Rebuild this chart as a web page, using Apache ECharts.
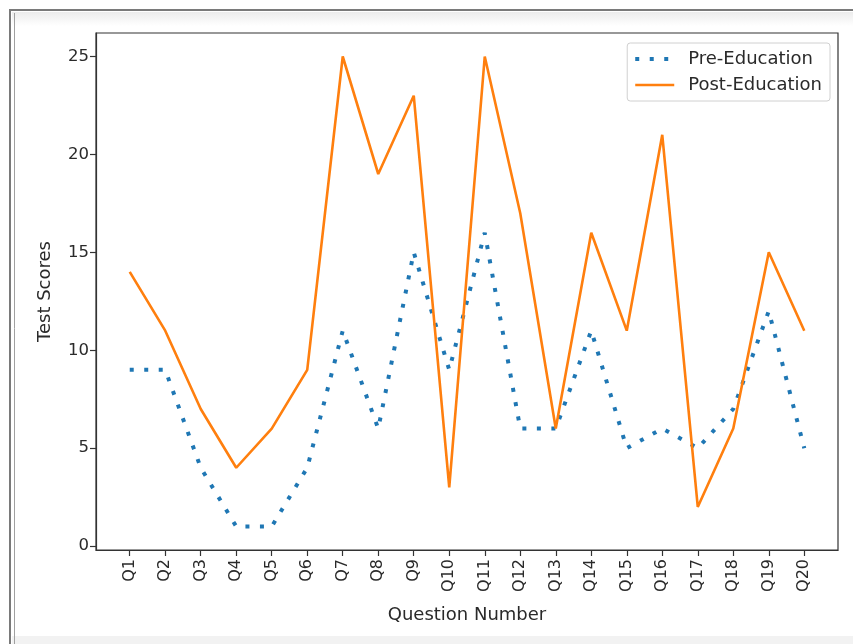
<!DOCTYPE html>
<html>
<head>
<meta charset="utf-8">
<script src="https://cdn.jsdelivr.net/npm/echarts@6/dist/echarts.min.js"></script>
<style>
html,body{margin:0;padding:0;background:#fff;}
#c{width:853px;height:644px;}
</style>
</head>
<body>
<div id="c"></div>
<script>
const categories = ['Q1','Q2','Q3','Q4','Q5','Q6','Q7','Q8','Q9','Q10','Q11','Q12','Q13','Q14','Q15','Q16','Q17','Q18','Q19','Q20'];
const preEducation = [9, 9, 4, 1, 1, 4, 11, 6, 15, 9, 16, 6, 6, 11, 5, 6, 5, 7, 12, 5];
const postEducation = [14, 11, 7, 4, 6, 9, 25, 19, 23, 3, 25, 17, 6, 16, 11, 21, 2, 6, 15, 11];
const yTicks = [0, 5, 10, 15, 20, 25];

const xIdx = categories.map((c, i) => i);
const font = 'DejaVu Sans';
const textColor = '#2a2a2a';

const chart = echarts.init(document.getElementById('c'), null, {renderer: 'canvas'});
chart.setOption({
  animation: false,
  backgroundColor: '#fff',
  textStyle: {fontFamily: font},
  grid: {left: 96, top: 33, right: 15, bottom: 94, show: true, borderColor: '#333', borderWidth: 1.2},
  xAxis: {
    type: 'value',
    min: -0.95, max: 19.95,
    name: 'Question Number',
    nameLocation: 'middle',
    nameGap: 56,
    nameTextStyle: {fontSize: 18, color: textColor, fontFamily: font},
    splitLine: {show: false},
    axisLine: {show: true, onZero: false, lineStyle: {color: '#333', width: 1.2}},
    axisTick: {show: true, length: 6, lineStyle: {color: '#333', width: 1.2}, customValues: xIdx},
    axisLabel: {
      customValues: xIdx,
      rotate: 90, fontSize: 16, color: textColor, fontFamily: font, margin: 9,
      formatter: v => categories[Math.round(v)]
    }
  },
  yAxis: {
    type: 'value',
    min: -0.2, max: 26.2,
    name: 'Test Scores',
    nameLocation: 'middle',
    nameGap: 42,
    nameTextStyle: {fontSize: 18, color: textColor, fontFamily: font},
    splitLine: {show: false},
    axisLine: {show: true, onZero: false, lineStyle: {color: '#333', width: 1.2}},
    axisTick: {show: true, length: 6, lineStyle: {color: '#333', width: 1.2}, customValues: yTicks},
    axisLabel: {customValues: yTicks, fontSize: 16.5, color: textColor, fontFamily: font, margin: 7}
  },
  legend: {
    orient: 'vertical',
    right: 23, top: 43,
    padding: [7, 8, 7, 6],
    itemGap: 8,
    itemWidth: 39, itemHeight: 14,
    backgroundColor: 'rgba(255,255,255,0.8)',
    borderColor: '#d0d0d0', borderWidth: 1, borderRadius: 3,
    itemStyle: {opacity: 0},
    textStyle: {fontSize: 18, color: textColor, fontFamily: font, padding: [0, 0, 0, 9]},
    data: [
      {name: 'Pre-Education', lineStyle: {width: 4}},
      {name: 'Post-Education', lineStyle: {width: 2.6}}
    ]
  },
  series: [
    {
      name: 'Pre-Education',
      type: 'line',
      data: preEducation.map((v, i) => [i, v]),
      symbol: 'none',
      color: '#1f77b4',
      lineStyle: {color: '#1f77b4', width: 4, type: [4, 10.5], cap: 'butt'}
    },
    {
      name: 'Post-Education',
      type: 'line',
      data: postEducation.map((v, i) => [i, v]),
      symbol: 'none',
      color: '#ff7f0e',
      lineStyle: {color: '#ff7f0e', width: 2.6}
    }
  ],
  graphic: [
    {type: 'rect', shape: {x: 12, y: 12, width: 841, height: 14}, style: {fill: new echarts.graphic.LinearGradient(0, 0, 0, 1, [{offset: 0, color: '#ececec'}, {offset: 1, color: '#ffffff'}])}, silent: true},
    {type: 'rect', shape: {x: 12, y: 636, width: 841, height: 8}, style: {fill: '#f2f2f2'}, silent: true},
    {type: 'line', shape: {x1: 9, y1: 10, x2: 853, y2: 10}, style: {stroke: '#7a7a7a', lineWidth: 2}, silent: true},
    {type: 'line', shape: {x1: 10, y1: 9, x2: 10, y2: 644}, style: {stroke: '#7a7a7a', lineWidth: 2}, silent: true},
    {type: 'line', shape: {x1: 14.5, y1: 13, x2: 14.5, y2: 644}, style: {stroke: '#a0a0a0', lineWidth: 1}, silent: true}
  ]
});
</script>
</body>
</html>
